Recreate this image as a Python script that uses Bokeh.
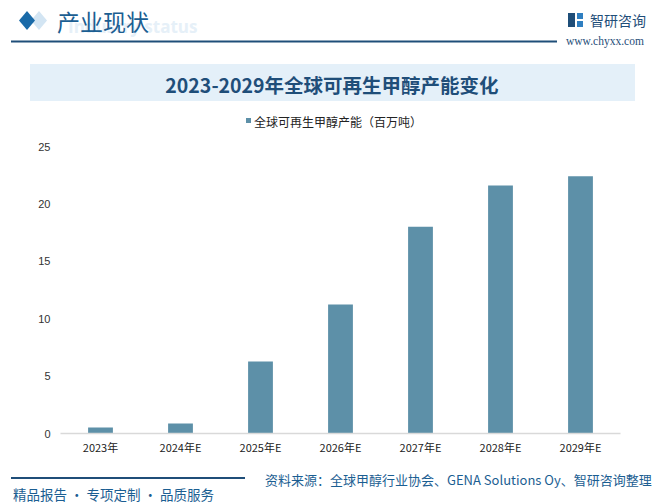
from bokeh.plotting import figure
from bokeh.layouts import column
from bokeh.models import FixedTicker, FactorRange, Range1d, ColumnDataSource, Div
from bokeh.embed import file_html
from bokeh.resources import INLINE

# ---------------- data ----------------
categories = ["2023年", "2024年E", "2025年E", "2026年E", "2027年E", "2028年E", "2029年E"]
capacity = [0.52, 0.87, 6.27, 11.24, 18.0, 21.6, 22.4]
y_ticks = [0, 5, 10, 15, 20, 25]
series_name = "全球可再生甲醇产能（百万吨）"
title_text = "2023-2029年全球可再生甲醇产能变化"
source_text = "资料来源：全球甲醇行业协会、GENA Solutions Oy、智研咨询整理"
slogan_text = "精品报告 · 专项定制 · 品质服务"

FONT = "Noto Sans CJK SC"
BAR = "#5d90a8"
BLUE = "#1b5e92"
NAVY = "#1f4e79"
W = 666
HEAD_H = 136
MAIN_H = 326
FOOT_H = 41


def t(x, y, s, size, color, anchor="start", bold=False, font=FONT):
    weight = "bold" if bold else "normal"
    return (f'<text x="{x}" y="{y}" font-size="{size}px" fill="{color}" '
            f'style="font-family:{font}" '
            f'font-weight="{weight}" text-anchor="{anchor}" dominant-baseline="central">{s}</text>')


def r(x0, y0, x1, y1, color):
    return f'<rect x="{x0}" y="{y0}" width="{x1 - x0}" height="{y1 - y0}" fill="{color}"/>'


def poly(pts, color):
    s = " ".join(f"{a},{b}" for a, b in pts)
    return f'<polygon points="{s}" fill="{color}"/>'


def svg_div(h, parts):
    html = (f'<svg xmlns="http://www.w3.org/2000/svg" width="{W}" height="{h}" '
            f'style="display:block">' + "".join(parts) + "</svg>")
    return Div(text=html, width=W, height=h, margin=0)


# ---------------- header ----------------
head_parts = [
    poly([(39, 11), (47, 20.5), (39, 30), (31, 20.5)], "#d3e5f3"),
    poly([(27, 11), (35, 20.5), (27, 30), (19, 20.5)], "#1a6aa8"),
    t(68, 26, "Industry status", 17, "#e6f0f8", bold=True, font="'Open Sans'"),
    t(57, 21, "产业现状", 23, BLUE, font=f"'{FONT}'"),
    r(11, 40.5, 557, 42.5, NAVY),
    r(568, 13, 575, 27, NAVY),
    r(577, 13, 583, 19, "#2f7fc1"),
    r(577, 21, 583, 27, "#2f7fc1"),
    t(590, 20, "智研咨询", 14, NAVY, font=f"'{FONT}'"),
    t(566, 40.5, "www.chyxx.com", 11.5, NAVY, font="'Liberation Serif', serif"),
    r(30, 64, 635, 101, "#e4f0f9"),
    t(332, 84, title_text, 19.5, NAVY, anchor="middle", bold=True, font=f"'{FONT}'"),
    r(246, 118, 251, 123, BAR),
    t(254, 121, series_name, 12, "#222222", font=f"'{FONT}'"),
]
head = svg_div(HEAD_H, head_parts)

# ---------------- main chart ----------------
p = figure(width=W, height=MAIN_H, x_range=FactorRange(*categories), y_range=Range1d(0, 25),
           output_backend="svg", toolbar_location=None,
           min_border_left=60, min_border_right=46, min_border_top=10, min_border_bottom=29)
p.outline_line_color = None
p.xgrid.grid_line_color = None
p.ygrid.grid_line_color = None
p.background_fill_color = "white"
p.border_fill_color = "white"

src = ColumnDataSource(dict(cat=categories, val=capacity))
p.vbar(x="cat", top="val", width=0.31, source=src, color=BAR, line_color=None)

p.yaxis.ticker = FixedTicker(ticks=y_ticks)
p.yaxis.axis_line_color = None
p.yaxis.major_tick_line_color = None
p.yaxis.minor_tick_line_color = None
p.yaxis.major_label_standoff = 4
p.yaxis.major_label_text_font = "Liberation Sans"
p.yaxis.major_label_text_font_size = "11px"
p.yaxis.major_label_text_color = "#333333"

p.xaxis.axis_line_color = "#d9d9d9"
p.xaxis.axis_line_width = 1.5
p.xaxis.major_tick_line_color = None
p.xaxis.minor_tick_line_color = None
p.xaxis.major_label_standoff = -1
p.xaxis.major_label_text_font = FONT
p.xaxis.major_label_text_font_size = "11px"
p.xaxis.major_label_text_color = "#222222"

# ---------------- footer ----------------
foot_parts = [
    r(11, 15, 245, 17, NAVY),
    t(265, 17, source_text, 13, BLUE, font=f"'{FONT}'"),
    t(13, 32, slogan_text, 13.5, BLUE, font=f"'{FONT}'"),
]
foot = svg_div(FOOT_H, foot_parts)

layout = column(head, p, foot, spacing=0)
open("out.html", "w").write(file_html(layout, INLINE))
